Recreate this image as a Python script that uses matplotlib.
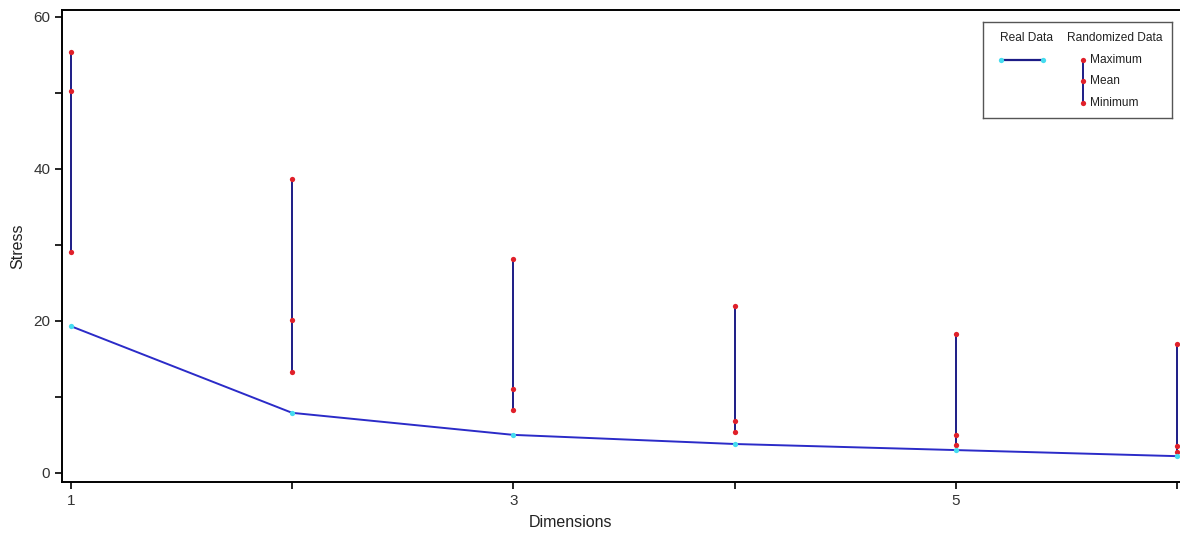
import matplotlib.pyplot as plt

plt.rcParams['font.family'] = ['Liberation Sans', 'DejaVu Sans']

# data
dims = [1, 2, 3, 4, 5, 6]
real_stress = [19.3, 7.9, 5.0, 3.8, 3.0, 2.2]
rand_max = [55.4, 38.7, 28.2, 22.0, 18.3, 17.0]
rand_mean = [50.2, 20.1, 11.1, 6.8, 5.0, 3.6]
rand_min = [29.1, 13.3, 8.3, 5.4, 3.7, 2.8]

line_col = '#2b2bc8'
bar_col = '#1c1c86'
red = '#e0202a'
cyan = '#45dcef'

fig = plt.figure(figsize=(11.8, 5.39), dpi=100)
ax = fig.add_axes([62/1180, 57/539, 1125/1180, 472/539])

ax.vlines(dims, rand_min, rand_max, color=bar_col, lw=1.4, zorder=2)
for vals in (rand_max, rand_mean, rand_min):
    ax.plot(dims, vals, 'o', ms=3.8, color=red, mec='none', zorder=3)
ax.plot(dims, real_stress, '-', color=line_col, lw=1.4, zorder=4)
ax.plot(dims, real_stress, 'o', ms=3.8, color=cyan, mec='none', zorder=5)

ax.set_xlim(0.96, 6.045)
ax.set_ylim(-1.2, 60.9)
ax.set_xticks(dims)
ax.set_xticklabels(['1', '', '3', '', '5', ''])
ax.set_yticks(range(0, 61, 10))
ax.set_yticklabels(['0', '', '20', '', '40', '', '60'])
ax.tick_params(direction='out', length=5, width=1.2, labelsize=11,
               labelcolor='#333333')
for s in ax.spines.values():
    s.set_linewidth(1.4)

ax.set_xlabel('Dimensions', fontsize=11.5, color='#222222')
ax.xaxis.set_label_coords(0.452, -0.07)
ax.set_ylabel('Stress', fontsize=11.5, color='#222222')
ax.yaxis.set_label_coords(-0.033, 0.5)

# legend box drawn by hand, in pixel units
lg = fig.add_axes([983/1180, (539-118)/539, 189/1180, 96/539])
lg.set_xlim(983, 1172)
lg.set_ylim(118, 22)
lg.set_xticks([])
lg.set_yticks([])
for s in lg.spines.values():
    s.set_color('#555555')
    s.set_linewidth(1.0)
fs = 8.6
lg.text(1027, 38, 'Real Data', ha='center', va='center', fontsize=fs, color='#222222')
lg.text(1115, 38, 'Randomized Data', ha='center', va='center', fontsize=fs, color='#222222')
lg.plot([1001, 1043], [60, 60], '-', color=bar_col, lw=1.6)
lg.plot([1001, 1043], [60, 60], 'o', ms=3.8, color=cyan, mec='none')
lg.plot([1083, 1083], [60, 103], '-', color=bar_col, lw=1.4)
lg.plot([1083, 1083, 1083], [60, 81, 103], 'o', ms=3.8, color=red, mec='none')
for yy, lab in zip([60, 81, 103], ['Maximum', 'Mean', 'Minimum']):
    lg.text(1090, yy, lab, ha='left', va='center', fontsize=fs, color='#222222')

fig.savefig('out.png', dpi=100)
